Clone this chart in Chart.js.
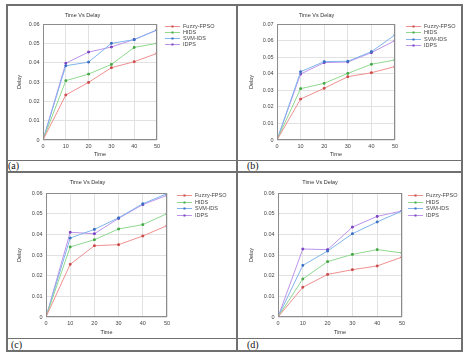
<!DOCTYPE html>
<html>
<head>
<meta charset="utf-8">
<script src="https://cdn.jsdelivr.net/npm/chart.js@4.4.1/dist/chart.umd.min.js"></script>
<style>
  body { margin: 0; background: #fff; width: 473px; height: 361px; position: relative; overflow: hidden; }
  .ln { position: absolute; background: #707070; }
  canvas { position: absolute; }
  .tag { position: absolute; font-family: 'Liberation Serif', 'Times New Roman', serif; font-size: 10px; line-height: 10px; color: #111; }
</style>
</head>
<body>
<!-- table frame -->
<div class="ln" style="left:6px;top:4px;width:457px;height:2px"></div>
<div class="ln" style="left:6px;top:350px;width:457px;height:2px"></div>
<div class="ln" style="left:6px;top:4px;width:2px;height:348px"></div>
<div class="ln" style="left:461px;top:4px;width:2px;height:348px"></div>
<div class="ln" style="left:236px;top:4px;width:2px;height:348px"></div>
<div class="ln" style="left:6px;top:160px;width:457px;height:1px"></div>
<div class="ln" style="left:6px;top:171px;width:457px;height:2px"></div>
<div class="ln" style="left:6px;top:338px;width:457px;height:1px"></div>

<canvas id="ca" width="228" height="153" style="left:8px;top:6px"></canvas>
<canvas id="cb" width="223" height="153" style="left:238px;top:6px"></canvas>
<canvas id="cc" width="228" height="164" style="left:8px;top:173px"></canvas>
<canvas id="cd" width="223" height="164" style="left:238px;top:173px"></canvas>

<div class="tag" style="left:8px;top:161px">(a)</div>
<div class="tag" style="left:247px;top:161px">(b)</div>
<div class="tag" style="left:11px;top:340px">(c)</div>
<div class="tag" style="left:247px;top:340px">(d)</div>

<script>
/* ─── Data ────────────────────────────────────────────── */
const TIME   = [0, 10, 20, 30, 40, 50];
const SERIES = ['Fuzzy-FPSO', 'HIDS', 'SVM-IDS', 'IDPS'];

// (a)
const A_FUZZY = [0, 0.0233, 0.0298, 0.0374, 0.0405, 0.0448];
const A_HIDS  = [0, 0.0307, 0.0341, 0.0391, 0.0479, 0.0500];
const A_SVM   = [0, 0.0384, 0.0403, 0.0500, 0.0519, 0.0569];
const A_IDPS  = [0, 0.0397, 0.0455, 0.0481, 0.0520, 0.0569];
// (b)
const B_FUZZY = [0, 0.0247, 0.0312, 0.0382, 0.0406, 0.0443];
const B_HIDS  = [0, 0.0310, 0.0342, 0.0402, 0.0457, 0.0483];
const B_SVM   = [0, 0.0412, 0.0473, 0.0475, 0.0533, 0.0634];
const B_IDPS  = [0, 0.0398, 0.0467, 0.0471, 0.0527, 0.0600];
// (c)
const C_FUZZY = [0, 0.0255, 0.0345, 0.0350, 0.0392, 0.0442];
const C_HIDS  = [0, 0.0339, 0.0374, 0.0426, 0.0447, 0.0500];
const C_SVM   = [0, 0.0382, 0.0424, 0.0480, 0.0548, 0.0597];
const C_IDPS  = [0, 0.0410, 0.0403, 0.0477, 0.0544, 0.0589];
// (d)
const D_FUZZY = [0, 0.0144, 0.0206, 0.0229, 0.0247, 0.0290];
const D_HIDS  = [0, 0.0184, 0.0268, 0.0303, 0.0326, 0.0310];
const D_SVM   = [0, 0.0250, 0.0319, 0.0403, 0.0460, 0.0513];
const D_IDPS  = [0, 0.0329, 0.0326, 0.0435, 0.0487, 0.0513];

const Y_MAX = { a: 0.06, b: 0.07, c: 0.06, d: 0.06 };

/* ─── Style ───────────────────────────────────────────── */
const FONT = "'Liberation Sans', Arial, sans-serif";
Chart.defaults.font.family = FONT;
Chart.defaults.color = '#333';

const LINE  = ['#ef9090', '#8fd88f', '#7fb4ec', '#bb94ea'];
const POINT = ['#cc4a4a', '#46a846', '#3a6ec4', '#7a42c4'];

/* plot frame + side legend */
const frame = {
  id: 'frame',
  afterDraw(chart, args, o) {
    const { ctx, chartArea: a } = chart;
    const l = Math.round(a.left) + 0.5, t = Math.round(a.top) + 0.5;
    const r = Math.round(a.right) - 0.5, b = Math.round(a.bottom) - 0.5;
    ctx.save();
    ctx.strokeStyle = '#8c8c8c';
    ctx.lineWidth = 1;
    ctx.strokeRect(l, t, r - l, b - t);
    ctx.font = '5.5px ' + FONT;
    ctx.textBaseline = 'middle';
    chart.data.datasets.forEach((ds, i) => {
      const x = a.right + o.dx, y = Math.round(a.top + o.dy + i * o.gap) + 0.5;
      ctx.strokeStyle = ds.borderColor;
      ctx.beginPath(); ctx.moveTo(x, y); ctx.lineTo(x + 15, y); ctx.stroke();
      ctx.fillStyle = ds.pointBackgroundColor;
      ctx.fillRect(x + 6.5, y - 1, 2, 2);
      ctx.fillStyle = '#444';
      ctx.fillText(ds.label, x + 18, y);
    });
    ctx.restore();
  }
};

function makeChart(id, key, values, p) {
  new Chart(document.getElementById(id), {
    type: 'line',
    data: {
      datasets: values.map((v, i) => ({
        label: SERIES[i],
        data: TIME.map((t, j) => ({ x: t, y: v[j] })),
        borderColor: LINE[i],
        borderWidth: 1,
        pointBackgroundColor: POINT[i],
        pointBorderColor: POINT[i],
        pointRadius: 1.2,
        pointStyle: 'rect',
        tension: 0,
      }))
    },
    options: {
      responsive: false, animation: false, devicePixelRatio: 1,
      layout: { padding: { left: 0, right: p.pr, top: 0, bottom: 0 } },
      plugins: {
        legend: { display: false },
        tooltip: { enabled: false },
        title: {
          display: true, text: 'Time Vs Delay', color: '#333',
          font: { size: 5.5, weight: 'normal' },
          padding: { top: p.tt, bottom: p.tb }
        },
        frame: p.leg
      },
      scales: {
        x: {
          type: 'linear', min: 0, max: 50,
          grid: { color: '#e2e2e2', drawTicks: false },
          border: { display: false },
          ticks: { stepSize: 10, padding: 3, font: { size: 5.5 }, color: '#444' },
          title: { display: true, text: 'Time', font: { size: 5.5 }, color: '#333', padding: { top: 0, bottom: 1 } },
          afterFit: s => { s.height = p.xh; s.paddingLeft = 0; s.paddingRight = 0; }
        },
        y: {
          min: 0, max: Y_MAX[key],
          grid: { color: '#e2e2e2', drawTicks: false },
          border: { display: false },
          ticks: {
            stepSize: 0.01, padding: 3.5, font: { size: 5.5 }, color: '#444',
            callback: v => v === 0 ? '0' : v.toFixed(2)
          },
          title: { display: true, text: 'Delay', font: { size: 5.5 }, color: '#333', padding: { top: p.yt, bottom: 0 } },
          afterFit: s => { s.width = p.yw; s.paddingTop = 0; s.paddingBottom = 0; }
        }
      }
    },
    plugins: [frame]
  });
}

makeChart('ca', 'a', [A_FUZZY, A_HIDS, A_SVM, A_IDPS],
  { pr: 79, yw: 35, xh: 19, tt: 6, tb: 5.4, yt: 7.7, leg: { dx: 8, dy: 1.7, gap: 6.2 } });
makeChart('cb', 'b', [B_FUZZY, B_HIDS, B_SVM, B_IDPS],
  { pr: 66, yw: 39, xh: 19, tt: 6, tb: 5.4, yt: 9.7, leg: { dx: 11, dy: 1.7, gap: 6.4 } });
makeChart('cc', 'c', [C_FUZZY, C_HIDS, C_SVM, C_IDPS],
  { pr: 69, yw: 38, xh: 20, tt: 6.4, tb: 7, yt: 7.7, leg: { dx: 10, dy: 2, gap: 6.5 } });
makeChart('cd', 'd', [D_FUZZY, D_HIDS, D_SVM, D_IDPS],
  { pr: 59, yw: 40, xh: 20, tt: 6.4, tb: 7, yt: 9.7, leg: { dx: 6, dy: 2, gap: 6.5 } });
</script>
</body>
</html>
